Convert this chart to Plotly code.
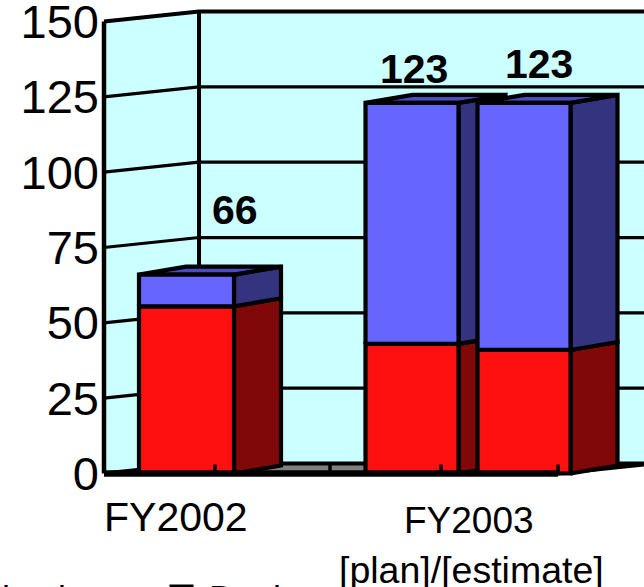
import plotly.graph_objects as go

# Obligations by fiscal year, stacked by category
bar_names = ["FY2002", "FY2003 plan", "FY2003 estimate"]
production = [55.5, 43, 41]
design = [10.5, 80, 82]
total_labels = ["66", "123", "123"]
y_ticks = [0, 25, 50, 75, 100, 125, 150]

# Pseudo-3D geometry, x in pixel-like units, y in chart units
PX_PER_UNIT = 3.013
BASE_PX = 473.5
TOP_PX = 3
BOTTOM_PX = 482
LEFT, RIGHT = 104, 644
PLOT_LEFT = 100
WALL_DX = 95
WALL_DY = 10 / PX_PER_UNIT
BAR_DX = 47
BAR_DY = 8 / PX_PER_UNIT
BAR_LEFT = [139, 365.5, 477.5]
BAR_W = [95, 93, 93]
LABEL_X = [235, 414, 539]
LABEL_PAD = [21.6, 11.4, 12.8]
FLOOR_RIGHT = 558
X_TICKS = [215, 330, 441, 558]
X_TICK_H = 9 / PX_PER_UNIT

WALL = "#CCFFFF"
FLOOR = "#808080"
BLUE = ("#6666FF", "#333380", "#4C4CC0")
RED = ("#FF1010", "#800808", "#C00C0C")

fig = go.Figure()


def poly(xs, ys, fill, width=4.2):
    fig.add_trace(go.Scatter(
        x=xs + xs[:1], y=ys + ys[:1], mode="lines", fill="toself", fillcolor=fill,
        line=dict(color="black", width=width), hoverinfo="skip", showlegend=False,
    ))


def line(xs, ys, width=3):
    fig.add_trace(go.Scatter(
        x=xs, y=ys, mode="lines", line=dict(color="black", width=width),
        hoverinfo="skip", showlegend=False,
    ))


back_x = LEFT + WALL_DX
far_x = FLOOR_RIGHT + WALL_DX
top = y_ticks[-1]

# Walls and floor
fig.add_trace(go.Scatter(
    x=[LEFT, back_x, far_x, far_x, back_x, LEFT, LEFT],
    y=[top, top + WALL_DY, top + WALL_DY, WALL_DY, WALL_DY, 0, top],
    mode="lines", fill="toself", fillcolor=WALL, line=dict(width=0),
    hoverinfo="skip", showlegend=False,
))
poly([LEFT, back_x, far_x, FLOOR_RIGHT], [0, WALL_DY, WALL_DY, 0], FLOOR, width=4)

# Gridlines wrap from the side wall onto the back wall
for v in y_ticks[1:]:
    line([LEFT, back_x, RIGHT], [v, v + WALL_DY, v + WALL_DY],
         width=4 if v == top else 3.2)
line([back_x, back_x], [WALL_DY, top + WALL_DY], width=4)
line([LEFT, LEFT], [0, top], width=4.5)


def box(x0, w, y0, y1, colors, with_top):
    x1 = x0 + w
    poly([x1, x1 + BAR_DX, x1 + BAR_DX, x1],
         [y0, y0 + BAR_DY, y1 + BAR_DY, y1], colors[1])
    if with_top:
        poly([x0, x0 + BAR_DX, x1 + BAR_DX, x1],
             [y1, y1 + BAR_DY, y1 + BAR_DY, y1], colors[2])
    poly([x0, x1, x1, x0], [y0, y0, y1, y1], colors[0])


# Stacked bars, drawn back to front from left to right
for i in range(len(bar_names)):
    box(BAR_LEFT[i], BAR_W[i], 0, production[i], RED, False)
    box(BAR_LEFT[i], BAR_W[i], production[i], production[i] + design[i], BLUE, True)

# Front floor edge and its tick marks
line([LEFT, FLOOR_RIGHT], [0, 0], width=6.5)
for t in X_TICKS:
    line([t, t], [0, X_TICK_H], width=3.5)


def px_x(p):
    return (p - PLOT_LEFT) / (RIGHT - PLOT_LEFT)


def px_y(p):
    return (BOTTOM_PX - p) / (BOTTOM_PX - TOP_PX)


annotations = []
# Totals above each bar
for i in range(len(bar_names)):
    annotations.append(dict(
        x=LABEL_X[i], y=production[i] + design[i] + LABEL_PAD[i], xref="x", yref="y",
        text=total_labels[i], showarrow=False,
        font=dict(size=41, family="Liberation Sans", color="black", weight="bold"),
    ))

# Category captions and the legend row at the foot of the chart
for text, cx, cy, size, anchor in [
    ("FY2002", 176, 517, 41, "center"),
    ("FY2003", 469, 520, 37, "center"),
    ("[plan]/[estimate]", 471, 570, 37.5, "center"),
    ("Production", 108, 599, 36, "right"),
    ("Design", 207, 599, 36, "left"),
]:
    annotations.append(dict(
        x=px_x(cx), y=px_y(cy), xref="paper", yref="paper", text=text,
        xanchor=anchor, yanchor="middle", showarrow=False,
        font=dict(size=size, family="Liberation Sans", color="black"),
    ))

fig.update_layout(
    width=644, height=587,
    margin=dict(l=PLOT_LEFT, r=0, t=TOP_PX, b=587 - BOTTOM_PX, pad=0),
    paper_bgcolor="white", plot_bgcolor="white",
    showlegend=False,
    annotations=annotations,
    shapes=[dict(
        type="rect", xref="paper", yref="paper",
        x0=px_x(171), x1=px_x(192), y0=px_y(606), y1=px_y(586),
        line=dict(color="black", width=3), fillcolor=BLUE[0],
    )],
    xaxis=dict(
        range=[PLOT_LEFT, RIGHT], showgrid=False, zeroline=False, showline=False,
        ticks="", showticklabels=False, fixedrange=True, automargin=False,
    ),
    yaxis=dict(
        range=[(BASE_PX - BOTTOM_PX) / PX_PER_UNIT, (BASE_PX - TOP_PX) / PX_PER_UNIT],
        showgrid=False, zeroline=False, showline=False,
        tickmode="array", tickvals=y_ticks, ticks="",
        ticklabeloverflow="allow", automargin=False,
        tickfont=dict(size=47, family="Liberation Sans", color="black"),
        fixedrange=True,
    ),
)

fig.write_html("out.html", config={"displayModeBar": False})
